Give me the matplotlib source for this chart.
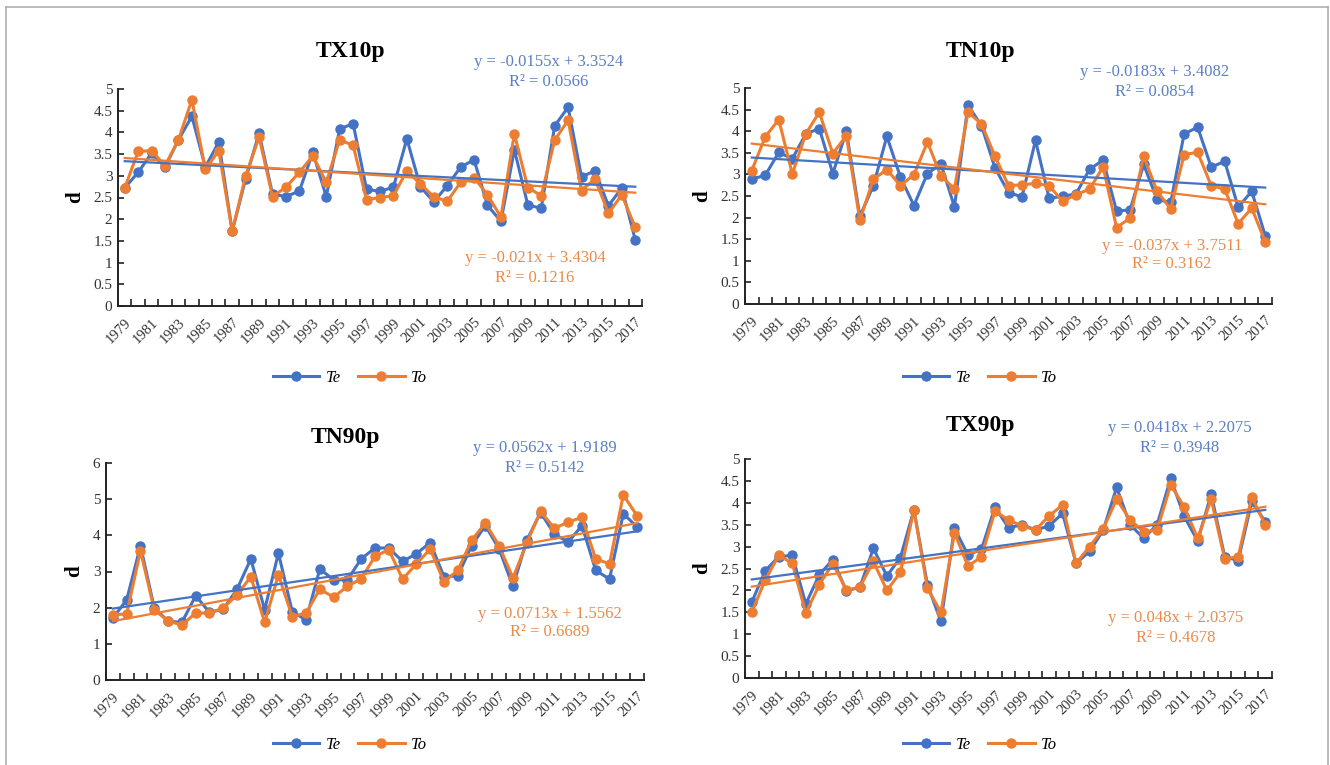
#!/usr/bin/env python3

from __future__ import annotations

import matplotlib

matplotlib.use("Agg")
import matplotlib.pyplot as plt
import numpy as np
from matplotlib.lines import Line2D

plt.rcParams.update(
    {
        "font.family": "serif",
        "font.serif": ["Liberation Serif", "DejaVu Serif"],
        "mathtext.fontset": "stix",
    }
)

YEARS = list(range(1979, 2018))

TX10P_TE = [2.72, 3.08, 3.52, 3.20, 3.83, 4.37, 3.20, 3.78, 1.72, 2.93,
            3.98, 2.58, 2.52, 2.65, 3.54, 2.52, 4.08, 4.20, 2.69, 2.64,
            2.74, 3.85, 2.75, 2.40, 2.77, 3.20, 3.37, 2.32, 1.95, 3.60,
            2.33, 2.25, 4.15, 4.58, 2.97, 3.12, 2.31, 2.72, 1.52]
TX10P_TO = [2.72, 3.56, 3.58, 3.23, 3.83, 4.75, 3.15, 3.58, 1.72, 3.00,
            3.89, 2.52, 2.74, 3.08, 3.46, 2.85, 3.83, 3.70, 2.45, 2.50,
            2.54, 3.12, 2.81, 2.52, 2.41, 2.85, 2.96, 2.56, 2.05, 3.97,
            2.73, 2.54, 3.82, 4.28, 2.66, 2.93, 2.14, 2.56, 1.81]

TN10P_TE = [2.89, 2.98, 3.51, 3.36, 3.94, 4.06, 3.02, 4.00, 2.03, 2.74,
            3.88, 2.94, 2.28, 3.02, 3.24, 2.25, 4.60, 4.13, 3.15, 2.58,
            2.48, 3.79, 2.45, 2.49, 2.55, 3.12, 3.33, 2.15, 2.18, 3.23,
            2.42, 2.35, 3.94, 4.09, 3.17, 3.30, 2.24, 2.61, 1.58]
TN10P_TO = [3.09, 3.87, 4.27, 3.01, 3.94, 4.44, 3.48, 3.90, 1.94, 2.89,
            3.11, 2.74, 2.99, 3.75, 2.96, 2.67, 4.44, 4.17, 3.42, 2.74,
            2.76, 2.79, 2.74, 2.38, 2.53, 2.66, 3.17, 1.77, 1.99, 3.42,
            2.61, 2.20, 3.46, 3.51, 2.74, 2.66, 1.86, 2.22, 1.44]

TN90P_TE = [1.71, 2.22, 3.71, 1.99, 1.63, 1.59, 2.33, 1.87, 1.96, 2.51,
            3.35, 1.94, 3.51, 1.89, 1.66, 3.07, 2.77, 2.77, 3.35, 3.65,
            3.65, 3.28, 3.49, 3.80, 2.86, 2.88, 3.71, 4.27, 3.62, 2.59,
            3.86, 4.63, 4.04, 3.81, 4.27, 3.03, 2.79, 4.60, 4.23]
TN90P_TO = [1.80, 1.83, 3.57, 1.94, 1.63, 1.52, 1.85, 1.85, 1.99, 2.35,
            2.86, 1.59, 2.91, 1.75, 1.85, 2.51, 2.29, 2.59, 2.80, 3.42,
            3.60, 2.79, 3.21, 3.62, 2.72, 3.03, 3.86, 4.34, 3.71, 2.82,
            3.79, 4.66, 4.20, 4.36, 4.50, 3.35, 3.21, 5.12, 4.54]

TX90P_TE = [1.73, 2.45, 2.77, 2.80, 1.69, 2.36, 2.70, 1.99, 2.07, 2.96,
            2.33, 2.75, 3.84, 2.13, 1.29, 3.42, 2.81, 2.94, 3.90, 3.43,
            3.50, 3.38, 3.47, 3.76, 2.62, 2.89, 3.37, 4.35, 3.50, 3.19,
            3.50, 4.56, 3.69, 3.13, 4.20, 2.77, 2.68, 4.03, 3.57]
TX90P_TO = [1.50, 2.24, 2.80, 2.62, 1.48, 2.13, 2.61, 2.01, 2.07, 2.66,
            2.00, 2.41, 3.84, 2.05, 1.50, 3.32, 2.55, 2.77, 3.81, 3.61,
            3.47, 3.38, 3.70, 3.95, 2.62, 3.00, 3.40, 4.08, 3.61, 3.34,
            3.38, 4.41, 3.91, 3.19, 4.08, 2.72, 2.77, 4.13, 3.50]

# (slope, intercept, r2) of the linear trend, x = 1..39
TREND_TE = {"TX10p": (-0.0155, 3.3524, 0.0566), "TN10p": (-0.0183, 3.4082, 0.0854),
            "TN90p": (0.0562, 1.9189, 0.5142), "TX90p": (0.0418, 2.2075, 0.3948)}
TREND_TO = {"TX10p": (-0.021, 3.4304, 0.1216), "TN10p": (-0.037, 3.7511, 0.3162),
            "TN90p": (0.0713, 1.5562, 0.6689), "TX90p": (0.048, 2.0375, 0.4678)}

BLUE = "#4472c4"
ORANGE = "#ed7d31"
BLUE_TXT = "#5b7fc7"
ORANGE_TXT = "#e88b4c"

W, H = 1330, 765

# name, te, to, ymax, axes box (left, right, top, bottom px), title xy,
# blue eq xy, orange eq xy, legend xy
PANELS = [
    ("TX10p", TX10P_TE, TX10P_TO, 5, (118, 642, 89, 306), (350, 52),
     (549, 72), (535, 268), (350, 378)),
    ("TN10p", TN10P_TE, TN10P_TO, 5, (745, 1272, 88, 304), (980, 52),
     (1155, 82), (1172, 255), (980, 378)),
    ("TN90p", TN90P_TE, TN90P_TO, 6, (106, 644, 463, 680), (345, 437),
     (545, 458), (550, 623), (350, 745)),
    ("TX90p", TX90P_TE, TX90P_TO, 5, (745, 1272, 459, 678), (980, 425),
     (1180, 438), (1176, 628), (980, 745)),
]


def fx(x):
    return x / W


def fy(y):
    return 1 - y / H


def eq_text(m, b, r2):
    sign = "+" if b >= 0 else "-"
    return f"y = {m:g}x {sign} {abs(b):.4f}\nR² = {r2:.4f}"


def build(out="out.png"):
    fig = plt.figure(figsize=(W / 100, H / 100), dpi=100, facecolor="white")

    # thin frame around the figure (left, top, right)
    for xs, ys in [([6, 6], [7, 765]), ([6, 1328], [7, 7]), ([1328, 1328], [7, 765])]:
        fig.add_artist(Line2D([fx(v) for v in xs], [fy(v) for v in ys],
                              color="#b0b0b0", lw=1.2))

    x = np.arange(1, len(YEARS) + 1)
    labels = [str(y) if (y - 1979) % 2 == 0 else "" for y in YEARS]

    for name, te, to, ymax, box, tpos, bpos, opos, lpos in PANELS:
        l, r, t, b = box
        ax = fig.add_axes([fx(l), fy(b), (r - l) / W, (b - t) / H])

        ax.plot(x, te, color=BLUE, lw=2.2, marker="o", ms=6.5, zorder=3)
        ax.plot(x, to, color=ORANGE, lw=2.2, marker="o", ms=6.5, zorder=4)

        m1, b1, r1 = TREND_TE[name]
        m2, b2, r2 = TREND_TO[name]
        ax.plot(x, m1 * x + b1, color=BLUE, lw=1.6, zorder=5)
        ax.plot(x, m2 * x + b2, color=ORANGE, lw=1.6, zorder=5)

        ax.set_xlim(0.5, len(YEARS) + 0.5)
        ax.set_ylim(0, ymax)
        step = 0.5 if ymax == 5 else 1
        yt = np.arange(0, ymax + step / 2, step)
        ax.set_yticks(yt)
        ax.set_yticklabels([f"{v:g}" for v in yt], fontsize=11, color="#333333")

        ax.set_xticks(x)
        ax.set_xticklabels(labels, rotation=45, fontsize=10.5, color="#333333",
                           ha="right", va="top", rotation_mode="anchor")
        ax.tick_params(axis="x", which="major", length=0, pad=7)
        ax.set_xticks(np.arange(0.5, len(YEARS) + 1), minor=True)
        ax.tick_params(axis="x", which="minor", direction="in", length=5,
                       width=1.2, color="#222222")
        ax.tick_params(axis="y", direction="in", length=4, width=1.2,
                       color="#222222", pad=4)

        for side in ("top", "right"):
            ax.spines[side].set_visible(False)
        for side in ("left", "bottom"):
            ax.spines[side].set_linewidth(1.4)
            ax.spines[side].set_color("#222222")

        ax.set_ylabel("d", fontsize=15, fontweight="bold", labelpad=6)

        fig.text(fx(tpos[0]), fy(tpos[1]), name, fontsize=17, fontweight="bold",
                 ha="center", va="center")
        fig.text(fx(bpos[0]), fy(bpos[1]), eq_text(m1, b1, r1), color=BLUE_TXT,
                 fontsize=12, ha="center", va="center", linespacing=1.25)
        fig.text(fx(opos[0]), fy(opos[1]), eq_text(m2, b2, r2), color=ORANGE_TXT,
                 fontsize=12, ha="center", va="center", linespacing=1.25)

        handles = [
            Line2D([], [], color=BLUE, lw=2.2, marker="o", ms=6.5, label="Te"),
            Line2D([], [], color=ORANGE, lw=2.2, marker="o", ms=6.5, label="To"),
        ]
        leg = fig.legend(handles=handles, loc="center",
                         bbox_to_anchor=(fx(lpos[0]), fy(lpos[1])), ncol=2,
                         frameon=False, fontsize=12, handlelength=2.8,
                         handletextpad=0.4, columnspacing=1.0)
        for txt in leg.get_texts():
            txt.set_fontstyle("italic")

    fig.savefig(out, dpi=100, facecolor="white")
    plt.close(fig)


if __name__ == "__main__":
    build()
